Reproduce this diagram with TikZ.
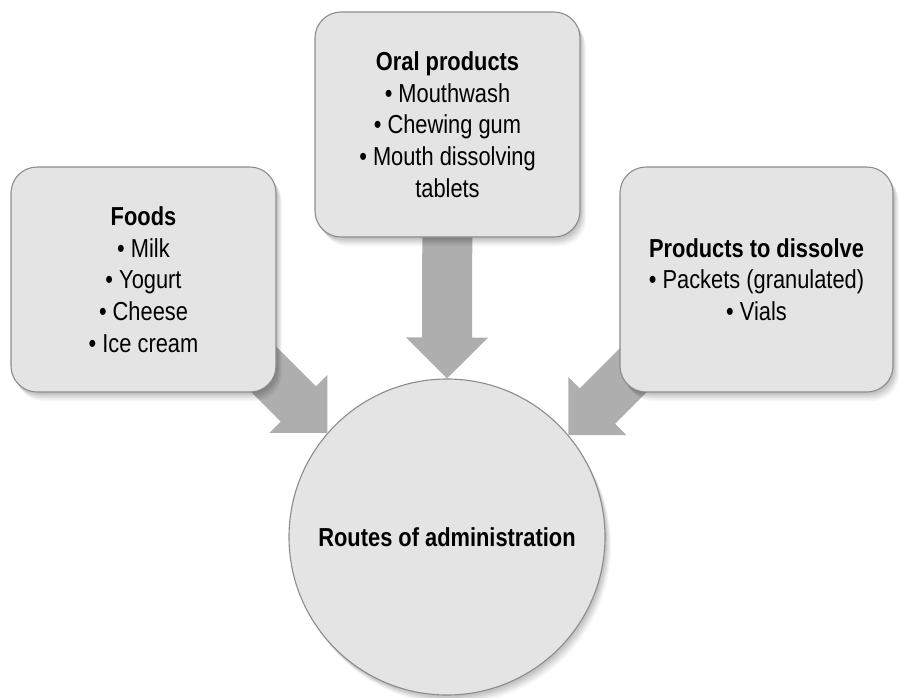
\documentclass[tikz,border=0pt]{standalone}
\usepackage{fontspec}
\setmainfont{Liberation Sans}[FakeStretch=0.84]
\usetikzlibrary{calc,shadows}
\pgfdeclarelayer{bg}
\pgfsetlayers{bg,main}
\definecolor{boxfill}{HTML}{E4E4E4}
\definecolor{boxline}{HTML}{8C8C8C}
\definecolor{arrowfill}{HTML}{AEAEAE}
\newcommand{\blockarrow}[2]{%
  \coordinate (b#2) at ($(#2)!41pt!(#1)$);
  \fill[arrowfill]
    ($(#1)!25pt!90:(#2)$) -- ($(b#2)!25pt!90:(#2)$) -- ($(b#2)!41pt!90:(#2)$)
    -- (#2) --
    ($(b#2)!41pt!-90:(#2)$) -- ($(b#2)!25pt!-90:(#2)$) -- ($(#1)!25pt!-90:(#2)$) -- cycle;}
\tikzset{
  softshadow/.style={
    drop shadow={shadow xshift=1pt, shadow yshift=-1.5pt, opacity=0.05, fill=black},
    drop shadow={shadow xshift=2pt, shadow yshift=-3pt, opacity=0.05, fill=black},
    drop shadow={shadow xshift=3pt, shadow yshift=-4.5pt, opacity=0.05, fill=black},
    drop shadow={shadow xshift=4pt, shadow yshift=-6pt, opacity=0.05, fill=black},
    drop shadow={shadow xshift=5pt, shadow yshift=-7.5pt, opacity=0.04, fill=black},
    drop shadow={shadow xshift=6pt, shadow yshift=-9pt, opacity=0.03, fill=black}},
  catbox/.style={softshadow, draw=boxline, line width=1.1pt, fill=boxfill,
    rounded corners=26pt, inner sep=0pt, align=center,
    font=\fontsize{26}{31.7}\selectfont},
  hub/.style={softshadow, circle, draw=boxline, line width=1.1pt, fill=boxfill,
    minimum size=316pt, inner sep=0pt, font=\fontsize{26}{30}\selectfont\bfseries}
}
\begin{document}
\begin{tikzpicture}[x=1pt,y=-1pt]
\useasboundingbox (0,0) rectangle (900,697);
\node[catbox, minimum width=265pt, minimum height=225pt] (foods) at (143.5,279.5)
  {\textbf{Foods}\\• Milk\\• Yogurt\\• Cheese\\• Ice cream};
\node[catbox, minimum width=265pt, minimum height=225pt] (oral) at (447.5,124.5)
  {\textbf{Oral products}\\• Mouthwash\\• Chewing gum\\• Mouth dissolving\\tablets};
\node[catbox, minimum width=273pt, minimum height=225pt] (diss) at (756.5,279.5)
  {\textbf{Products to dissolve}\\• Packets (granulated)\\• Vials};
\node[hub] (routes) at (447,537) {Routes of administration};
\coordinate (lt) at (routes.139);
\coordinate (ls) at ($(lt)+(-130,-130)$);
\coordinate (rt) at (routes.40);
\coordinate (rs) at ($(rt)+(130,-130)$);
\coordinate (mt) at (routes.north);
\coordinate (ms) at (oral.center);
\begin{pgfonlayer}{bg}
\blockarrow{ls}{lt}
\blockarrow{ms}{mt}
\blockarrow{rs}{rt}
\end{pgfonlayer}
\end{tikzpicture}
\end{document}
